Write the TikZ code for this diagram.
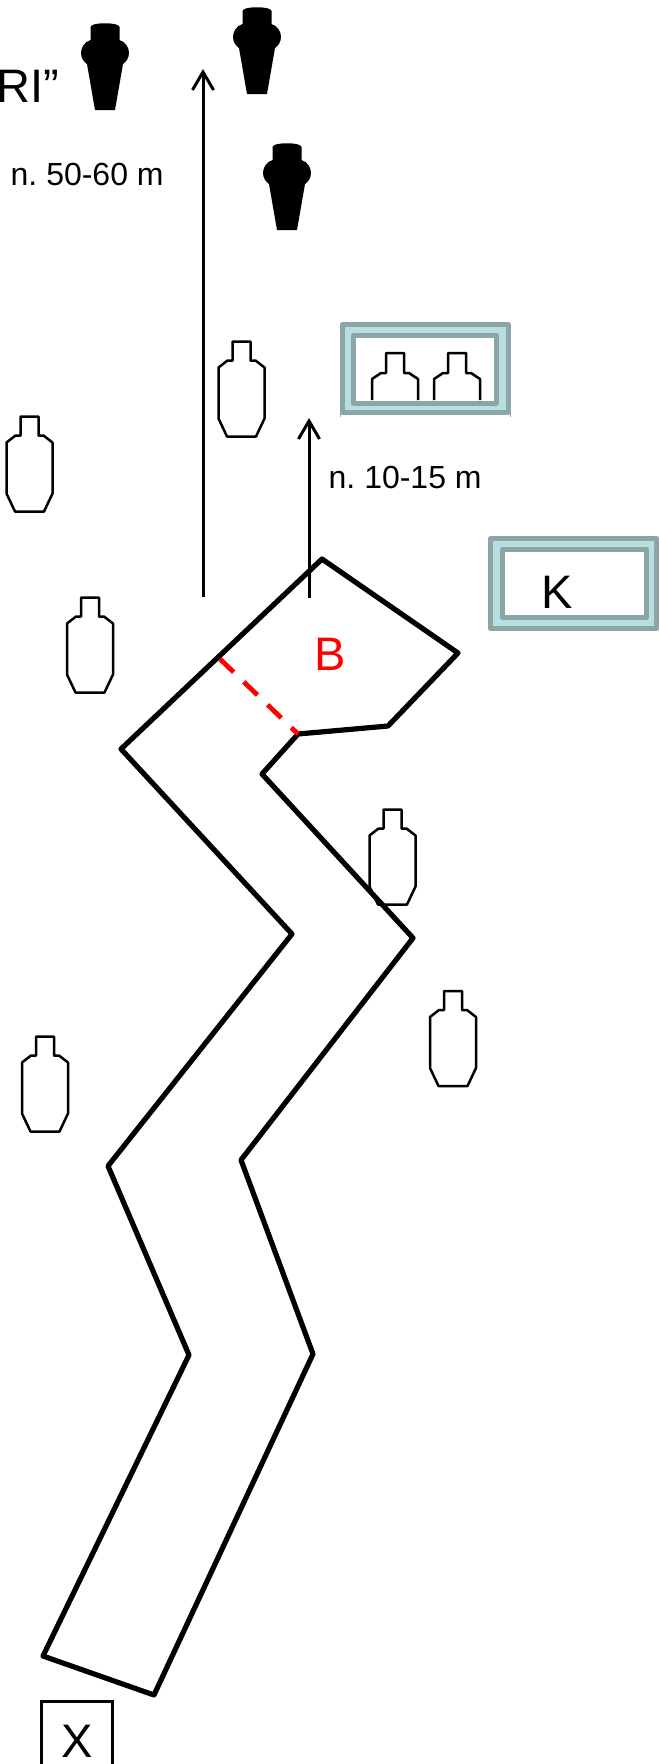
\documentclass[tikz,border=0pt]{standalone}
\usepackage{fontspec}
\setmainfont{Liberation Sans}
\frenchspacing
\usetikzlibrary{arrows.meta}
\definecolor{framegrey}{HTML}{8CA6A8}
\definecolor{framefill}{HTML}{B7DFE1}
\tikzset{
  course/.style={line width=5.2pt,line join=round,line cap=round},
  gate/.style={line width=4.8pt,red,dash pattern=on 19pt off 14pt},
  rangearrow/.style={line width=3pt,-{Straight Barb[length=18pt,width=21pt,line width=3pt]}},
  lbl/.style={inner sep=0pt,anchor=base},
  sm/.style={lbl,font=\fontsize{32}{32}\selectfont},
  lg/.style={lbl,font=\fontsize{47}{47}\selectfont},
  paper/.style={line width=2.5pt,draw=black,line join=round},
  outerframe/.style={line width=5pt,draw=framegrey,fill=framefill,line join=round},
  innerframe/.style={line width=5pt,draw=framegrey,fill=white,line join=round},
  pics/papertarget/.style={code={
    \draw[paper,fill=white] (-9,0)--(9,0)--(9,19)--(14,19)--(23,26)--(23,77)--(14.5,95)--(-14.5,95)--(-23,77)--(-23,26)--(-14,19)--(-9,19)--cycle;}},
  pics/halftarget/.style={code={
    \draw[paper] (-23,47)--(-23,26)--(-14,20)--(-9,20)--(-9,0)--(9,0)--(9,20)--(14,20)--(23,26)--(23,47);}},
  pics/darktarget/.style={code={
    \fill[black] (-14.5,4) .. controls (-14.5,-1) and (14.5,-1) .. (14.5,4)
      -- (14.5,17) .. controls (21,19) and (24,25) .. (24,30)
      .. controls (24,35) and (21,39) .. (18,41)
      -- (10,87) -- (-10,87) -- (-18,41)
      .. controls (-21,39) and (-24,35) .. (-24,30)
      .. controls (-24,25) and (-21,19) .. (-14.5,17) -- cycle;}},
}
\begin{document}
\begin{tikzpicture}[x=1pt,y=-1pt]
\useasboundingbox (0,0) rectangle (659,1764);
\fill[white] (0,0) rectangle (659,1764);
% dark targets
\pic at (105,23) {darktarget};
\pic at (257,7) {darktarget};
\pic at (287,143) {darktarget};
% labels
\node[lg,anchor=base east] (ri) at (59,102) {RI”};
\node[sm,anchor=base west] (far) at (10.5,185) {n. 50-60 m};
\node[sm,anchor=base west] (near) at (328.5,488) {n. 10-15 m};
% paper targets
\pic at (241.5,341.5) {papertarget};
\pic at (29.5,416.5) {papertarget};
\pic at (90,597.5) {papertarget};
\pic at (453,991) {papertarget};
\pic at (45,1036.5) {papertarget};
% framed box with targets
\draw[framegrey,line width=0.8pt] (340,412)--(340,416.5) (510,412)--(510,416.5);
\draw[outerframe] (342,324.5) rectangle (508,412);
\draw[innerframe] (353.5,335.5) rectangle (496.5,403.5);
\pic at (395,353) {halftarget};
\pic at (457,353) {halftarget};
% K box
\draw[outerframe] (490.5,538.5) rectangle (656.5,628.5);
\draw[innerframe] (502.5,549.5) rectangle (646.5,617.5);
\node[lg] (k) at (557,608) {K};
% course
\coordinate (c1) at (322,559);
\coordinate (c2) at (458,653);
\coordinate (c3) at (388,726);
\coordinate (c4) at (298,734);
\coordinate (c5) at (262,774);
\coordinate (c6) at (413,938);
\coordinate (c7) at (241,1160);
\coordinate (c8) at (313,1354);
\coordinate (c9) at (154,1695);
\coordinate (c10) at (43,1656);
\coordinate (c11) at (189,1355);
\coordinate (c12) at (108,1166);
\coordinate (c13) at (292,934);
\coordinate (c14) at (121,749);
\coordinate (g1) at (220,659);
\pic at (392.5,809.5) {papertarget};
\draw[course] (c1)--(c2)--(c3)--(c4)--(c5)--(c6)--(c7)--(c8)--(c9)--(c10)--(c11)--(c12)--(c13)--(c14)--cycle;
\draw[gate] (g1)--(c4);
\node[lg,red] (b) at (330,670) {B};
% range arrows
\coordinate (a1s) at (203,597);
\coordinate (a1e) at (203,69);
\coordinate (a2s) at (309,598);
\coordinate (a2e) at (309,418);
\draw[rangearrow] (a1s)--(a1e);
\draw[rangearrow] (a2s)--(a2e);
% X box
\node[draw=black,line width=3pt,minimum width=71pt,minimum height=66pt,inner sep=0pt] (xbox) at (77,1734) {};
\node[lg] (x) at (77,1757) {X};
\end{tikzpicture}
\end{document}
